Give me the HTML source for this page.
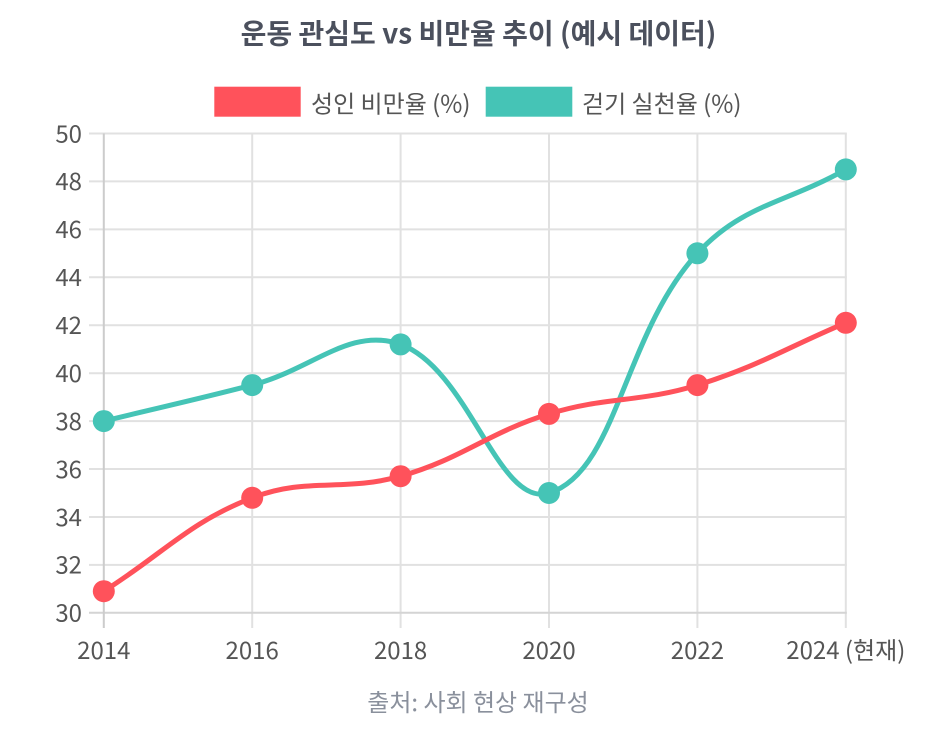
<!DOCTYPE html>
<html><head><meta charset="utf-8"><style>
html,body{margin:0;padding:0;background:#fff;width:938px;height:736px;overflow:hidden}
svg{display:block;font-family:"Noto Sans CJK KR","Liberation Sans",sans-serif}
</style></head><body>
<svg width="938" height="736" viewBox="0 0 938 736" xmlns="http://www.w3.org/2000/svg">
<rect width="938" height="736" fill="#fff"/>
<text x="478.5" y="43.5" text-anchor="middle" font-size="28" font-weight="bold" fill="#4b505d">운동 관심도 vs 비만율 추이 (예시 데이터)</text>
<rect x="214.3" y="86.7" width="86.4" height="30" fill="#ff525b"/>
<text x="311" y="112.5" font-size="24" fill="#555">성인 비만율 (%)</text>
<rect x="485.7" y="86.7" width="86.6" height="30" fill="#45c4b6"/>
<text x="582" y="112.5" font-size="24" fill="#555">걷기 실천율 (%)</text>
<g stroke="#e1e1e1" stroke-width="2" fill="none">
<line x1="89" y1="133.5" x2="846.8" y2="133.5"/>
<line x1="89" y1="181.4" x2="846.8" y2="181.4"/>
<line x1="89" y1="229.4" x2="846.8" y2="229.4"/>
<line x1="89" y1="277.3" x2="846.8" y2="277.3"/>
<line x1="89" y1="325.2" x2="846.8" y2="325.2"/>
<line x1="89" y1="373.2" x2="846.8" y2="373.2"/>
<line x1="89" y1="421.1" x2="846.8" y2="421.1"/>
<line x1="89" y1="469.0" x2="846.8" y2="469.0"/>
<line x1="89" y1="517.0" x2="846.8" y2="517.0"/>
<line x1="89" y1="564.9" x2="846.8" y2="564.9"/>
<line x1="252.2" y1="133.5" x2="252.2" y2="628"/>
<line x1="400.6" y1="133.5" x2="400.6" y2="628"/>
<line x1="549" y1="133.5" x2="549" y2="628"/>
<line x1="697.4" y1="133.5" x2="697.4" y2="628"/>
<line x1="845.8" y1="133.5" x2="845.8" y2="628"/>
</g>
<line x1="89" y1="612.8" x2="846.8" y2="612.8" stroke="#d4d4d4" stroke-width="2"/>
<line x1="103.8" y1="133.5" x2="103.8" y2="628" stroke="#cccccc" stroke-width="2"/>
<g font-size="24" fill="#555" text-anchor="end">
<text x="82" y="142.3">50</text>
<text x="82" y="190.2">48</text>
<text x="82" y="238.2">46</text>
<text x="82" y="286.1">44</text>
<text x="82" y="334.0">42</text>
<text x="82" y="382.0">40</text>
<text x="82" y="429.9">38</text>
<text x="82" y="477.8">36</text>
<text x="82" y="525.8">34</text>
<text x="82" y="573.7">32</text>
<text x="82" y="621.6">30</text>
</g>
<g font-size="24" fill="#555" text-anchor="middle">
<text x="103.8" y="659">2014</text>
<text x="252.2" y="659">2016</text>
<text x="400.6" y="659">2018</text>
<text x="549" y="659">2020</text>
<text x="697.4" y="659">2022</text>
<text x="845.8" y="659">2024 (현재)</text>
</g>
<path d="M103.8,421.1 C163.16,406.7 193.08,400.38 252.2,385.1 C311.8,369.7 350.38,326.14 400.6,344.4 C469.1,369.3 498.31,508.56 549,493 C617.03,472.12 623.41,333.97 697.4,253.3 C742.13,204.53 786.44,202.96 845.8,169.4" fill="none" stroke="#45c4b6" stroke-width="5" stroke-linejoin="round"/>
<g fill="#45c4b6">
<circle cx="103.8" cy="421.1" r="11"/>
<circle cx="252.2" cy="385.1" r="11"/>
<circle cx="400.6" cy="344.4" r="11"/>
<circle cx="549" cy="493" r="11"/>
<circle cx="697.4" cy="253.3" r="11"/>
<circle cx="845.8" cy="169.4" r="11"/>
</g>
<path d="M103.8,591.2 C163.16,553.84 188.21,522.59 252.2,497.8 C306.93,476.59 343.35,492.38 400.6,476.2 C462.07,458.82 487.77,432.69 549,413.9 C606.49,396.25 639.91,402.75 697.4,385.1 C758.63,366.31 786.44,347.72 845.8,322.8" fill="none" stroke="#ff525b" stroke-width="5" stroke-linejoin="round"/>
<g fill="#ff525b">
<circle cx="103.8" cy="591.2" r="11"/>
<circle cx="252.2" cy="497.8" r="11"/>
<circle cx="400.6" cy="476.2" r="11"/>
<circle cx="549" cy="413.9" r="11"/>
<circle cx="697.4" cy="385.1" r="11"/>
<circle cx="845.8" cy="322.8" r="11"/>
</g>
<text x="478" y="711" text-anchor="middle" font-size="24" fill="#8a909c">출처: 사회 현상 재구성</text>
</svg>
</body></html>
